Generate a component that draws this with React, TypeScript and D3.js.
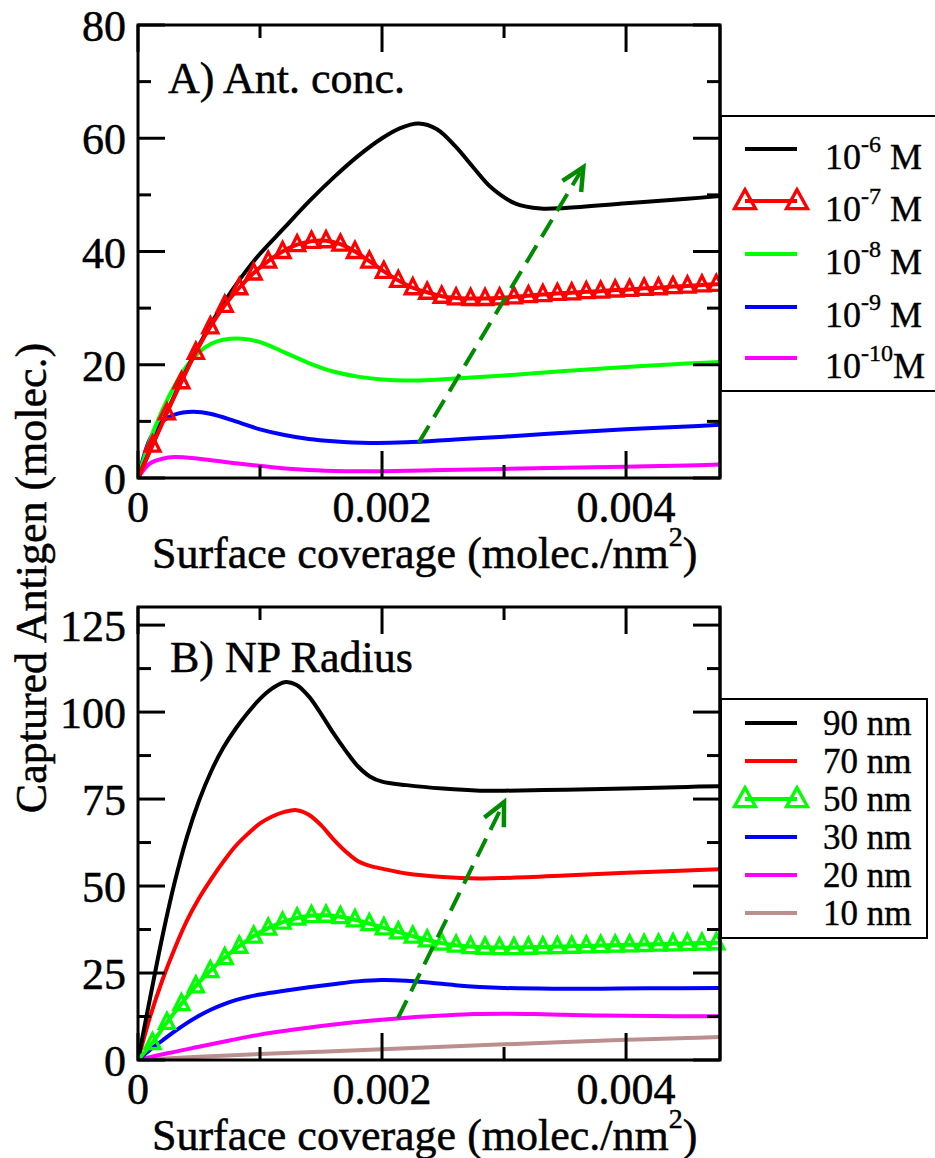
import React from 'react';
import * as d3 from 'd3';

type Pt = [number, number];

// x values are in units of 1e-3 molec./nm^2
const X_MAX = 4.77;
const xMajor = [0, 2, 4];
const xMajorLabels = ['0', '0.002', '0.004'];
const xMinor = [1, 3];

const topYMajor = [0, 20, 40, 60, 80];
const topYMinor = [10, 30, 50, 70];
const botYMajor = [0, 25, 50, 75, 100, 125];
const botYMinor = [12.5, 37.5, 62.5, 87.5, 112.5];

const markerX = [0.119, 0.237, 0.356, 0.474, 0.593, 0.711, 0.83, 0.948, 1.067, 1.185, 1.304, 1.422, 1.541, 1.659, 1.778, 1.896, 2.015, 2.133, 2.252, 2.37, 2.489, 2.607, 2.726, 2.844, 2.963, 3.081, 3.2, 3.318, 3.437, 3.555, 3.674, 3.792, 3.911, 4.029, 4.148, 4.266, 4.385, 4.503, 4.622, 4.74];

// Panel A: antigen concentration
const concM6: Pt[] = [[0, 0], [0.12, 6], [0.24, 11.8], [0.48, 22.6], [0.72, 31.5], [0.96, 38.6], [1.2, 44.2], [1.4, 48.8], [1.6, 53.0], [1.8, 56.8], [2.0, 60.0], [2.15, 61.8], [2.3, 62.6], [2.45, 61.6], [2.6, 58.6], [2.75, 54.8], [2.9, 51.2], [3.1, 48.4], [3.3, 47.6], [3.5, 47.7], [4.0, 48.5], [4.5, 49.3], [4.77, 49.8]];
const concM7Markers = [5.8, 11.5, 17.0, 22.2, 26.7, 30.5, 33.6, 36.2, 38.3, 40.0, 41.2, 41.8, 41.9, 41.3, 40.0, 38.3, 36.5, 34.9, 33.6, 32.8, 32.1, 31.8, 31.7, 31.7, 31.8, 32.0, 32.2, 32.4, 32.6, 32.7, 32.9, 33.0, 33.2, 33.3, 33.5, 33.6, 33.8, 33.9, 34.1, 34.2];
const concM7End: Pt = [4.77, 34.2];
const concM8: Pt[] = [[0, 0], [0.1, 6.8], [0.2, 12], [0.3, 16.3], [0.4, 19.8], [0.5, 22.2], [0.6, 23.7], [0.7, 24.4], [0.85, 24.6], [1.0, 24.0], [1.2, 22.2], [1.4, 20.3], [1.6, 18.8], [1.8, 17.9], [2.0, 17.4], [2.2, 17.2], [2.4, 17.3], [2.7, 17.7], [3.0, 18.1], [3.5, 18.9], [4.0, 19.6], [4.5, 20.2], [4.77, 20.5]];
const concM9: Pt[] = [[0, 0], [0.05, 4], [0.1, 7], [0.2, 10], [0.3, 11.2], [0.45, 11.7], [0.6, 11.3], [0.8, 10.0], [1.0, 8.6], [1.2, 7.6], [1.4, 6.9], [1.6, 6.5], [1.9, 6.2], [2.2, 6.3], [2.6, 6.8], [3.0, 7.3], [3.5, 8.0], [4.0, 8.6], [4.5, 9.1], [4.77, 9.4]];
const concM10: Pt[] = [[0, 0], [0.05, 1.5], [0.1, 2.6], [0.2, 3.4], [0.3, 3.7], [0.5, 3.4], [0.8, 2.6], [1.1, 1.9], [1.4, 1.4], [1.7, 1.2], [2.0, 1.2], [2.5, 1.4], [3.0, 1.6], [3.5, 1.8], [4.0, 2.0], [4.5, 2.2], [4.77, 2.4]];
const concExps = ['-6', '-7', '-8', '-9', '-10'];
const concColors = ['#000000', '#ff0000', '#00ff00', '#0000ff', '#ff00ff'];
const arrowA: Pt[] = [[2.3, 6.2], [3.65, 54.9]];

// Panel B: NP radius
const rad90: Pt[] = [[0, 0], [0.1, 18], [0.2, 35.5], [0.3, 51], [0.4, 64], [0.5, 74.5], [0.6, 83], [0.7, 89.8], [0.8, 95.2], [0.9, 99.8], [1.0, 103.8], [1.1, 106.8], [1.2, 108.6], [1.3, 107.8], [1.4, 104.5], [1.5, 99.5], [1.6, 94], [1.7, 89], [1.8, 84.5], [1.9, 81.5], [2.0, 80], [2.2, 79], [2.5, 78], [2.8, 77.4], [3.0, 77.4], [3.5, 77.7], [4.0, 78], [4.5, 78.5], [4.77, 78.7]];
const rad70: Pt[] = [[0, 0], [0.1, 12.5], [0.2, 23], [0.3, 32], [0.4, 40], [0.5, 46.5], [0.6, 52], [0.7, 57], [0.8, 61.5], [0.9, 65], [1.0, 68], [1.1, 70], [1.2, 71.3], [1.3, 71.8], [1.4, 70.5], [1.5, 67.5], [1.6, 63.5], [1.7, 60], [1.8, 57.2], [1.9, 55.8], [2.0, 55], [2.2, 53.6], [2.5, 52.6], [2.8, 52.2], [3.0, 52.3], [3.5, 53], [4.0, 53.8], [4.5, 54.5], [4.77, 54.8]];
const rad50Markers = [5.0, 10.8, 16.2, 21.3, 25.7, 29.4, 32.7, 35.6, 37.9, 39.6, 40.8, 41.5, 41.6, 41.2, 40.3, 39.2, 38.0, 36.8, 35.6, 34.5, 33.6, 33.0, 32.6, 32.4, 32.3, 32.3, 32.4, 32.5, 32.6, 32.7, 32.8, 32.9, 33.0, 33.1, 33.2, 33.3, 33.4, 33.5, 33.6, 33.7];
const rad50End: Pt = [4.77, 33.7];
const rad30: Pt[] = [[0, 0], [0.1, 3], [0.2, 5.6], [0.3, 8.2], [0.4, 10.6], [0.5, 12.7], [0.6, 14.5], [0.7, 16], [0.8, 17.2], [0.9, 18.1], [1.0, 18.8], [1.2, 19.9], [1.4, 20.9], [1.6, 21.8], [1.8, 22.6], [2.0, 23.0], [2.2, 22.8], [2.4, 22.2], [2.6, 21.5], [2.8, 21.0], [3.0, 20.7], [3.4, 20.5], [3.8, 20.5], [4.2, 20.6], [4.77, 20.7]];
const rad20: Pt[] = [[0, 0], [0.25, 2], [0.5, 3.8], [0.75, 5.6], [1.0, 7.3], [1.25, 8.6], [1.5, 9.8], [1.75, 10.8], [2.0, 11.6], [2.25, 12.3], [2.5, 12.8], [2.75, 13.2], [3.0, 13.3], [3.25, 13.2], [3.5, 13.0], [3.75, 12.8], [4.0, 12.7], [4.4, 12.6], [4.77, 12.6]];
const rad10: Pt[] = [[0, 0], [0.5, 0.9], [1.0, 1.7], [1.5, 2.4], [2.0, 3.1], [2.5, 3.8], [3.0, 4.5], [3.5, 5.2], [4.0, 5.8], [4.5, 6.3], [4.77, 6.6]];
const radLabels = ['90 nm', '70 nm', '50 nm', '30 nm', '20 nm', '10 nm'];
const radColors = ['#000000', '#ff0000', '#00ff00', '#0000ff', '#ff00ff', '#bc8f8f'];
const arrowB: Pt[] = [[2.13, 12], [3.0, 74.1]];

const FONT = 'Liberation Serif';
const ARROW_COLOR = '#008b00';

type Series = { pts: Pt[]; color: string; markers?: Pt[] };

function triPath(cx: number, cy: number, w: number, h: number) {
  return `M${cx},${cy - 0.6 * h}L${cx - w / 2},${cy + 0.4 * h}L${cx + w / 2},${cy + 0.4 * h}Z`;
}

const txt = { fontFamily: FONT } as React.CSSProperties;
const TS = 0.5; // slight text stroke to mimic the heavier raster glyphs

function Panel(props: {
  top: number; bottom: number; yMax: number; yMajor: number[]; yMinor: number[];
  series: Series[]; arrow: Pt[]; label: string; labelX: number; labelY: number; clipId: string;
}) {
  const { top, bottom, yMax, yMajor, yMinor, series, arrow, label, labelX, labelY, clipId } = props;
  const left = 138, right = 720;
  const x = d3.scaleLinear().domain([0, X_MAX]).range([left, right]);
  const y = d3.scaleLinear().domain([0, yMax]).range([bottom, top]);
  const line = d3.line<Pt>().x(d => x(d[0])).y(d => y(d[1])).curve(d3.curveCatmullRom.alpha(0.5));
  const MAJ = 27, MIN = 13;
  const tickStroke = 3;

  const [a0, a1] = arrow;
  const ax0 = x(a0[0]), ay0 = y(a0[1]), ax1 = x(a1[0]), ay1 = y(a1[1]);
  const ang = Math.atan2(ay1 - ay0, ax1 - ax0);
  const hl = 25, ha = 0.45;
  const wing1: Pt = [ax1 - hl * Math.cos(ang - ha), ay1 - hl * Math.sin(ang - ha)];
  const wing2: Pt = [ax1 - hl * Math.cos(ang + ha), ay1 - hl * Math.sin(ang + ha)];
  const shaftEnd: Pt = [ax1 - 6 * Math.cos(ang), ay1 - 6 * Math.sin(ang)];

  return (
    <g>
      <defs>
        <clipPath id={clipId}>
          <rect x={left} y={top} width={right - left} height={bottom - top} />
        </clipPath>
      </defs>
      <g clipPath={`url(#${clipId})`}>
        {series.map((s, i) => (
          <path key={i} d={line(s.pts) || ''} fill="none" stroke={s.color} strokeWidth={4} strokeLinejoin="round" />
        ))}
      </g>
      {series.map((s, i) => s.markers ? (
        <g key={'m' + i}>
          {s.markers.map((p, j) => (
            <path key={j} d={triPath(x(p[0]), y(p[1]), 15, 15)} fill="none" stroke={s.color} strokeWidth={3.3} strokeLinejoin="miter" />
          ))}
        </g>
      ) : null)}
      <line x1={ax0} y1={ay0} x2={shaftEnd[0]} y2={shaftEnd[1]} stroke={ARROW_COLOR} strokeWidth={4} strokeDasharray="20,10" />
      <polyline points={`${wing1[0]},${wing1[1]} ${ax1},${ay1} ${wing2[0]},${wing2[1]}`} fill="none" stroke={ARROW_COLOR} strokeWidth={4.5} strokeLinejoin="miter" />
      <rect x={left} y={top} width={right - left} height={bottom - top} fill="none" stroke="#000" strokeWidth={3} />
      {xMajor.map((v, i) => (
        <g key={'xM' + i}>
          <line x1={x(v)} x2={x(v)} y1={bottom} y2={bottom - MAJ} stroke="#000" strokeWidth={tickStroke} />
          <line x1={x(v)} x2={x(v)} y1={top} y2={top + MAJ} stroke="#000" strokeWidth={tickStroke} />
          <text x={x(v)} y={bottom + 44} fontSize={44} textAnchor="middle" style={txt} stroke="#000" strokeWidth={TS}>{xMajorLabels[i]}</text>
        </g>
      ))}
      {xMinor.map((v, i) => (
        <g key={'xm' + i}>
          <line x1={x(v)} x2={x(v)} y1={bottom} y2={bottom - MIN} stroke="#000" strokeWidth={tickStroke} />
          <line x1={x(v)} x2={x(v)} y1={top} y2={top + MIN} stroke="#000" strokeWidth={tickStroke} />
        </g>
      ))}
      {yMajor.map((v, i) => (
        <g key={'yM' + i}>
          <line x1={left} x2={left + MAJ} y1={y(v)} y2={y(v)} stroke="#000" strokeWidth={tickStroke} />
          <line x1={right} x2={right - MAJ} y1={y(v)} y2={y(v)} stroke="#000" strokeWidth={tickStroke} />
          <text x={126} y={y(v) + 16} fontSize={44} textAnchor="end" style={txt} stroke="#000" strokeWidth={TS}>{String(v)}</text>
        </g>
      ))}
      {yMinor.map((v, i) => (
        <g key={'ym' + i}>
          <line x1={left} x2={left + MIN} y1={y(v)} y2={y(v)} stroke="#000" strokeWidth={tickStroke} />
          <line x1={right} x2={right - MIN} y1={y(v)} y2={y(v)} stroke="#000" strokeWidth={tickStroke} />
        </g>
      ))}
      <text x={152} y={bottom + 90} fontSize={44} style={txt} stroke="#000" strokeWidth={TS}>
        Surface coverage (molec./nm<tspan fontSize={28} dy={-22}>2</tspan><tspan dy={22}>)</tspan>
      </text>
      <text x={labelX} y={labelY} fontSize={44} style={txt} stroke="#000" strokeWidth={TS}>{label}</text>
    </g>
  );
}

export default function App() {
  const m7: Pt[] = markerX.map((mx, i) => [mx, concM7Markers[i]] as Pt);
  const m50: Pt[] = markerX.map((mx, i) => [mx, rad50Markers[i]] as Pt);
  const topSeries: Series[] = [
    { pts: concM6, color: concColors[0] },
    { pts: [[0, 0] as Pt, ...m7, concM7End], color: concColors[1], markers: m7 },
    { pts: concM8, color: concColors[2] },
    { pts: concM9, color: concColors[3] },
    { pts: concM10, color: concColors[4] },
  ];
  const botSeries: Series[] = [
    { pts: rad90, color: radColors[0] },
    { pts: rad70, color: radColors[1] },
    { pts: [[0, 0] as Pt, ...m50, rad50End], color: radColors[2], markers: m50 },
    { pts: rad30, color: radColors[3] },
    { pts: rad20, color: radColors[4] },
    { pts: rad10, color: radColors[5] },
  ];
  const topDraw = [topSeries[4], topSeries[3], topSeries[2], topSeries[0], topSeries[1]];
  const botDraw = [botSeries[5], botSeries[4], botSeries[3], botSeries[1], botSeries[0], botSeries[2]];

  const topRows = [149, 201, 254, 307, 358];
  const botRows = [723, 761, 799, 837, 875, 913];

  return (
    <svg width={935} height={1158} style={{ position: 'absolute', left: 0, top: 0, background: '#fff', fontFamily: FONT }}>
      <rect x={0} y={0} width={935} height={1158} fill="#fff" />
      <Panel top={25} bottom={478} yMax={80} yMajor={topYMajor} yMinor={topYMinor} series={topDraw} arrow={arrowA}
        label="A) Ant. conc." labelX={168} labelY={93} clipId="clipA" />
      <Panel top={607} bottom={1060} yMax={130.2} yMajor={botYMajor} yMinor={botYMinor} series={botDraw} arrow={arrowB}
        label="B) NP Radius" labelX={170} labelY={672} clipId="clipB" />

      <text transform="translate(46,578) rotate(-90)" fontSize={44} textAnchor="middle" style={txt} stroke="#000" strokeWidth={TS}>Captured Antigen (molec.)</text>

      <rect x={721} y={116} width={230} height={275} fill="#fff" stroke="#000" strokeWidth={2} />
      {concExps.map((e, i) => (
        <g key={'la' + i}>
          <line x1={745} x2={797} y1={topRows[i]} y2={topRows[i]} stroke={concColors[i]} strokeWidth={4} />
          {i === 1 ? (
            <g>
              <path d={triPath(745, topRows[i], 21, 19)} fill="none" stroke={concColors[i]} strokeWidth={3.3} />
              <path d={triPath(797, topRows[i], 21, 19)} fill="none" stroke={concColors[i]} strokeWidth={3.3} />
            </g>
          ) : null}
          <text x={825} y={topRows[i] + 20} fontSize={36} style={txt} stroke="#000" strokeWidth={0.4}>
            10<tspan fontSize={24} dy={-17}>{e}</tspan><tspan dy={17}>{e === '-10' ? 'M' : '\u00a0M'}</tspan>
          </text>
        </g>
      ))}

      <rect x={721} y={699} width={206} height={239} fill="#fff" stroke="#000" strokeWidth={2} />
      {radLabels.map((l, i) => (
        <g key={'lb' + i}>
          <line x1={745} x2={797} y1={botRows[i]} y2={botRows[i]} stroke={radColors[i]} strokeWidth={4} />
          {i === 2 ? (
            <g>
              <path d={triPath(745, botRows[i], 21, 19)} fill="none" stroke={radColors[i]} strokeWidth={3.3} />
              <path d={triPath(797, botRows[i], 21, 19)} fill="none" stroke={radColors[i]} strokeWidth={3.3} />
            </g>
          ) : null}
          <text x={823} y={botRows[i] + 12} fontSize={35} style={txt} stroke="#000" strokeWidth={0.4}>{l}</text>
        </g>
      ))}
      <line x1={720} x2={720} y1={25} y2={478} stroke="#000" strokeWidth={3} />
      <line x1={720} x2={720} y1={607} y2={1060} stroke="#000" strokeWidth={3} />
    </svg>
  );
}
